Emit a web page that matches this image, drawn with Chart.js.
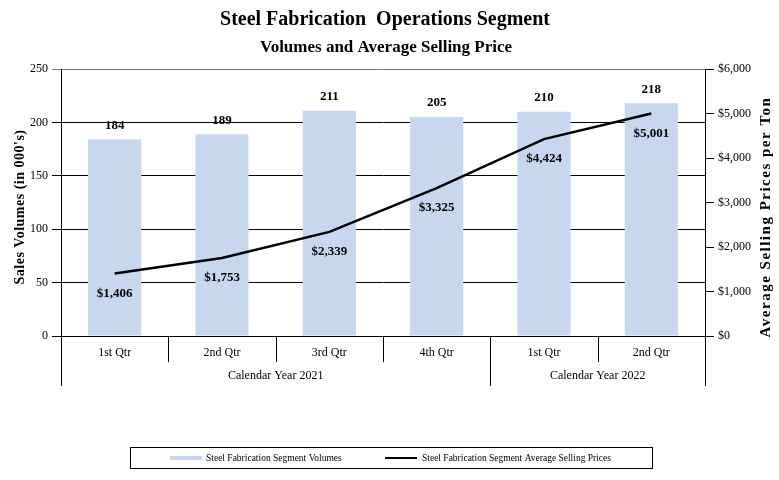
<!DOCTYPE html>
<html><head><meta charset="utf-8">
<script src="https://cdn.jsdelivr.net/npm/chart.js@4/dist/chart.umd.min.js"></script>
<style>html,body{margin:0;padding:0;background:#fff;}</style>
</head><body>
<canvas id="c" width="779" height="480"></canvas>
<script>
const categories = ['1st Qtr','2nd Qtr','3rd Qtr','4th Qtr','1st Qtr','2nd Qtr'];
const yearGroups = ['Calendar Year 2021','Calendar Year 2022'];
const yearGroupSizes = [4, 2];
const volumes = [184, 189, 211, 205, 210, 218];
const prices = [1406, 1753, 2339, 3325, 4424, 5001];
const volumeTicks = [0, 50, 100, 150, 200, 250];
const priceTicks = [0, 1000, 2000, 3000, 4000, 5000, 6000];
const titleText = 'Steel Fabrication  Operations Segment';
const subtitleText = 'Volumes and Average Selling Price';
const leftAxisTitle = "Sales Volumes (in 000's)";
const rightAxisTitle = 'Average Selling Prices per Ton';
const volumeLabel = 'Steel Fabrication Segment Volumes';
const priceLabel = 'Steel Fabrication Segment Average Selling Prices';

const SERIF = '"Liberation Serif", "Times New Roman", serif';
const BAR_COLOR = '#C6D7EE';
const fmtPrice = v => '$' + Number(v).toLocaleString('en-US');

const decor = {
  id: 'decor',
  afterDraw(chart) {
    const ctx = chart.ctx;
    const area = chart.chartArea;
    const xs = chart.scales.x;
    ctx.save();
    ctx.fillStyle = '#000';
    ctx.textAlign = 'center';
    ctx.textBaseline = 'middle';
    // titles
    ctx.font = 'bold 20px ' + SERIF;
    ctx.fillText(titleText, 385, 20);
    ctx.font = 'bold 17px ' + SERIF;
    ctx.fillText(subtitleText, 386, 48);

    // axis titles
    ctx.save();
    ctx.translate(20, 207);
    ctx.rotate(-Math.PI / 2);
    ctx.font = 'bold 14px ' + SERIF;
    ctx.letterSpacing = '0.5px';
    ctx.fillText(leftAxisTitle, 0, 0);
    ctx.restore();
    ctx.save();
    ctx.translate(766, 217);
    ctx.rotate(-Math.PI / 2);
    ctx.font = 'bold 15px ' + SERIF;
    ctx.letterSpacing = '1.5px';
    ctx.fillText(rightAxisTitle, 0, 0);
    ctx.restore();

    // category separators and year groups
    const n = categories.length;
    const bounds = [];
    for (let i = 0; i <= n; i++) {
      if (i === 0) bounds.push(area.left);
      else if (i === n) bounds.push(area.right);
      else bounds.push((xs.getPixelForValue(i - 1) + xs.getPixelForValue(i)) / 2);
    }
    const groupEdges = [0];
    yearGroupSizes.forEach(s => groupEdges.push(groupEdges[groupEdges.length - 1] + s));
    ctx.strokeStyle = '#000';
    ctx.lineWidth = 1;
    bounds.forEach((bx, i) => {
      const long = groupEdges.includes(i);
      const x = Math.round(bx) + 0.5;
      ctx.beginPath();
      ctx.moveTo(x, area.bottom);
      ctx.lineTo(x, long ? 386 : 362);
      ctx.stroke();
    });
    ctx.font = '12px ' + SERIF;
    yearGroups.forEach((g, k) => {
      const cx = (bounds[groupEdges[k]] + bounds[groupEdges[k + 1]]) / 2;
      ctx.fillText(g, cx, 376);
    });

    // data labels
    ctx.font = 'bold 13px ' + SERIF;
    const barMeta = chart.getDatasetMeta(0);
    barMeta.data.forEach((el, i) => {
      ctx.fillText(String(volumes[i]), el.x, el.y - 14);
    });
    const lineMeta = chart.getDatasetMeta(1);
    lineMeta.data.forEach((el, i) => {
      ctx.fillText(fmtPrice(prices[i]), el.x, el.y + 20);
    });

    // legend
    ctx.strokeStyle = '#000';
    ctx.lineWidth = 1;
    ctx.strokeRect(130.5, 447.5, 522, 21);
    ctx.fillStyle = chart.data.datasets[0].backgroundColor;
    ctx.fillRect(170, 456, 32, 4);
    ctx.fillStyle = '#000';
    ctx.textAlign = 'left';
    ctx.font = '9.5px ' + SERIF;
    ctx.fillText(chart.data.datasets[0].label, 206, 458.5);
    ctx.beginPath();
    ctx.lineWidth = 2;
    ctx.moveTo(385, 458);
    ctx.lineTo(417, 458);
    ctx.stroke();
    ctx.fillText(chart.data.datasets[1].label, 422, 458.5);
    ctx.restore();
  }
};

new Chart(document.getElementById('c'), {
  data: {
    labels: categories,
    datasets: [
      {
        type: 'bar', label: volumeLabel, data: volumes, yAxisID: 'y',
        backgroundColor: BAR_COLOR, borderWidth: 0,
        barPercentage: 0.495, categoryPercentage: 1.0, order: 2
      },
      {
        type: 'line', label: priceLabel, data: prices, yAxisID: 'y1',
        borderColor: '#000', borderWidth: 2.5, pointRadius: 0, tension: 0,
        fill: false, order: 1
      }
    ]
  },
  plugins: [decor],
  options: {
    responsive: false,
    animation: false,
    devicePixelRatio: 1,
    layout: { padding: { top: 69, bottom: 94, left: 0, right: 0 } },
    plugins: { legend: { display: false }, title: { display: false }, tooltip: { enabled: false } },
    scales: {
      x: {
        type: 'category', offset: true,
        grid: { display: false, drawTicks: false },
        border: { display: true, color: '#000', width: 1 },
        ticks: { font: { family: SERIF, size: 12 }, color: '#000', padding: 10, maxRotation: 0, autoSkip: false },
        afterFit: s => { s.height = 50; }
      },
      y: {
        position: 'left', min: 0, max: 250,
        afterBuildTicks: s => { s.ticks = volumeTicks.map(v => ({ value: v })); },
        grid: {
          color: c => (c.tick && c.tick.value === 250) ? '#808080' : '#000',
          lineWidth: 1, drawTicks: true, tickLength: 9
        },
        border: { display: true, color: '#000', width: 1 },
        ticks: { font: { family: SERIF, size: 12 }, color: '#000', padding: 4 },
        afterFit: s => { s.width = 61; }
      },
      y1: {
        position: 'right', min: 0, max: 6000,
        afterBuildTicks: s => { s.ticks = priceTicks.map(v => ({ value: v })); },
        grid: { drawOnChartArea: false, color: '#000', drawTicks: true, tickLength: 9 },
        border: { display: true, color: '#000', width: 1 },
        ticks: { font: { family: SERIF, size: 12 }, color: '#000', padding: 4, callback: v => fmtPrice(v) },
        afterFit: s => { s.width = 74; }
      }
    }
  }
});
</script>
</body></html>
